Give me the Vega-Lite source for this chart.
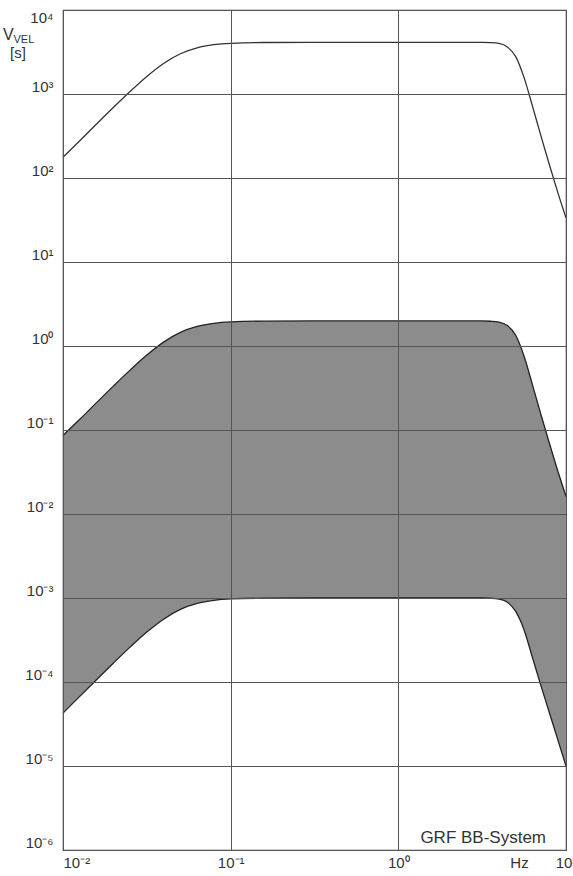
{
  "$schema": "https://vega.github.io/schema/vega-lite/v6.json",
  "autosize": {"type": "none"},
  "padding": {"left": 63, "top": 10, "right": 7, "bottom": 26},
  "width": 503,
  "height": 840,
  "background": "white",
  "config": {
    "view": {"stroke": "#444", "strokeWidth": 1.2},
    "font": "Liberation Sans"
  },
  "data": {
    "values": [
      {"f": 0.01, "top": 176.2, "hi": 0.086, "lo": 4.26e-5},
      {"f": 0.012589, "top": 278.0, "hi": 0.134, "lo": 6.75e-5},
      {"f": 0.015849, "top": 439.1, "hi": 0.2116, "lo": 1.065e-4},
      {"f": 0.019953, "top": 690.2, "hi": 0.3327, "lo": 1.675e-4},
      {"f": 0.025119, "top": 1071.5, "hi": 0.5164, "lo": 2.6e-4},
      {"f": 0.031623, "top": 1618, "hi": 0.7798, "lo": 3.926e-4},
      {"f": 0.039811, "top": 2307, "hi": 1.112, "lo": 5.598e-4},
      {"f": 0.050119, "top": 3013, "hi": 1.452, "lo": 7.311e-4},
      {"f": 0.063096, "top": 3548, "hi": 1.71, "lo": 8.61e-4},
      {"f": 0.079433, "top": 3864, "hi": 1.862, "lo": 9.376e-4},
      {"f": 0.1, "top": 4013, "hi": 1.934, "lo": 9.739e-4},
      {"f": 0.15849, "top": 4102, "hi": 1.977, "lo": 9.954e-4},
      {"f": 0.31623, "top": 4121, "hi": 1.986, "lo": 0.001},
      {"f": 1, "top": 4121, "hi": 1.986, "lo": 0.001},
      {"f": 3.1623, "top": 4121, "hi": 1.986, "lo": 0.001},
      {"f": 3.5481, "top": 4093, "hi": 1.972, "lo": 9.931e-4},
      {"f": 3.9811, "top": 3999, "hi": 1.928, "lo": 9.705e-4},
      {"f": 4.4668, "top": 3631, "hi": 1.75, "lo": 8.913e-4},
      {"f": 5.0119, "top": 2786, "hi": 1.343, "lo": 6.918e-4},
      {"f": 5.6234, "top": 1567, "hi": 0.755, "lo": 4.169e-4},
      {"f": 6.3096, "top": 716, "hi": 0.345, "lo": 1.95e-4},
      {"f": 7.0795, "top": 320, "hi": 0.154, "lo": 9.12e-5},
      {"f": 7.9433, "top": 146, "hi": 0.0705, "lo": 4.365e-5},
      {"f": 8.9125, "top": 68.4, "hi": 0.033, "lo": 2.089e-5},
      {"f": 10, "top": 33.5, "hi": 0.01614, "lo": 1.0e-5}
    ]
  },
  "layer": [
    {
      "mark": {"type": "area", "color": "#8c8c8c", "interpolate": "monotone"},
      "encoding": {
        "x": {
          "field": "f", "type": "quantitative",
          "scale": {"type": "log", "domain": [0.01, 10], "nice": false},
          "axis": {
            "zindex": 1,
            "values": [0.01, 0.1, 1, 10],
            "grid": true, "gridColor": "#555", "gridWidth": 1,
            "domain": false, "ticks": false,
            "labelFlush": false,
            "labelFont": "Liberation Sans", "labelFontSize": 15, "labelColor": "#333",
            "labelPadding": 5,
            "labelAlign": {"condition": {"test": "datum.value < 0.05", "value": "left"}, "value": "center"},
            "labelExpr": "datum.value < 0.05 ? '10⁻²' : datum.value < 0.5 ? '10⁻¹' : datum.value < 5 ? '10⁰' : '10¹'",
            "title": "Hz",
            "titleFont": "Liberation Sans", "titleFontSize": 15, "titleFontWeight": "normal", "titleColor": "#333",
            "titleAnchor": "start", "titleX": 456, "titleY": 12, "titleBaseline": "middle", "titleAlign": "center"
          }
        },
        "y": {
          "field": "hi", "type": "quantitative",
          "scale": {"type": "log", "domain": [1e-6, 10000], "nice": false},
          "axis": {
            "zindex": 1,
            "values": [1e-6, 1e-5, 1e-4, 1e-3, 1e-2, 1e-1, 1, 10, 100, 1000, 10000],
            "grid": true, "gridColor": "#555", "gridWidth": 1,
            "domain": false, "ticks": false,
            "labelFont": "Liberation Sans", "labelFontSize": 15, "labelColor": "#333",
            "labelPadding": 10,
            "labelBaseline": {"condition": {"test": "datum.value > 5000", "value": "top"}, "value": "alphabetic"},
            "labelOffset": {"condition": {"test": "datum.value > 5000", "value": 0}, "value": -3},
            "labelExpr": "datum.value > 5000 ? '10⁴' : datum.value > 500 ? '10³' : datum.value > 50 ? '10²' : datum.value > 5 ? '10¹' : datum.value > 0.5 ? '10⁰' : datum.value > 0.05 ? '10⁻¹' : datum.value > 0.005 ? '10⁻²' : datum.value > 0.0005 ? '10⁻³' : datum.value > 0.00005 ? '10⁻⁴' : datum.value > 0.000005 ? '10⁻⁵' : '10⁻⁶'",
            "title": null
          }
        },
        "y2": {"field": "lo"}
      }
    },
    {
      "mark": {"type": "line", "color": "#222", "strokeWidth": 1.3, "interpolate": "monotone"},
      "encoding": {
        "x": {"field": "f", "type": "quantitative"},
        "y": {"field": "hi", "type": "quantitative"}
      }
    },
    {
      "mark": {"type": "line", "color": "#222", "strokeWidth": 1.3, "interpolate": "monotone"},
      "encoding": {
        "x": {"field": "f", "type": "quantitative"},
        "y": {"field": "lo", "type": "quantitative"}
      }
    },
    {
      "mark": {"type": "line", "color": "#333", "strokeWidth": 1.3, "interpolate": "monotone"},
      "encoding": {
        "x": {"field": "f", "type": "quantitative"},
        "y": {"field": "top", "type": "quantitative"}
      }
    },
    {
      "data": {"values": [{"t": "GRF BB-System"}]},
      "mark": {"type": "text", "align": "right", "baseline": "middle", "font": "Liberation Sans", "fontSize": 17, "color": "#333"},
      "encoding": {
        "x": {"datum": 7.6},
        "y": {"datum": 1.4e-6},
        "text": {"field": "t"}
      }
    },
    {
      "data": {"values": [{"t": "V"}]},
      "mark": {"type": "text", "align": "left", "baseline": "alphabetic", "font": "Liberation Sans", "fontSize": 16, "color": "#333", "dx": -60, "dy": 30},
      "encoding": {
        "x": {"datum": 0.01},
        "y": {"datum": 10000},
        "text": {"field": "t"}
      }
    },
    {
      "data": {"values": [{"t": "VEL"}]},
      "mark": {"type": "text", "align": "left", "baseline": "alphabetic", "font": "Liberation Sans", "fontSize": 11, "color": "#333", "dx": -49.5, "dy": 33},
      "encoding": {
        "x": {"datum": 0.01},
        "y": {"datum": 10000},
        "text": {"field": "t"}
      }
    },
    {
      "data": {"values": [{"t": "[s]"}]},
      "mark": {"type": "text", "align": "left", "baseline": "alphabetic", "font": "Liberation Sans", "fontSize": 15, "color": "#333", "dx": -53, "dy": 48},
      "encoding": {
        "x": {"datum": 0.01},
        "y": {"datum": 10000},
        "text": {"field": "t"}
      }
    }
  ]
}
